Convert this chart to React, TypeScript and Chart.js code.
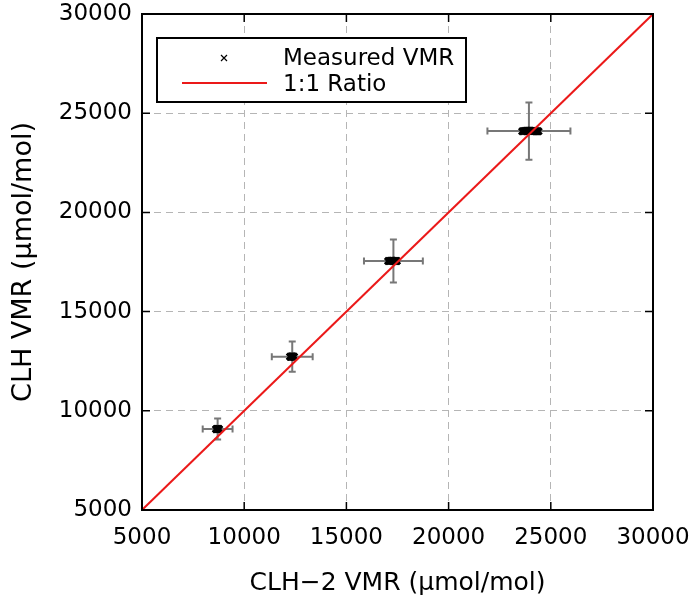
import React, { useEffect, useRef } from "react";
import { Chart, registerables } from "chart.js";

Chart.register(...registerables);

// ---- data ----
const axisMin = 5000;
const axisMax = 30000;
const tickStep = 5000;

// mean values of the four measurement groups
const meanX = [8700, 12350, 17300, 23930];
const meanY = [9080, 12730, 17550, 24100];
const errX = [730, 1000, 1440, 2030];
const errY = [530, 760, 1080, 1440];

// individual measurements (clusters)
const measX = [
  8620, 8645, 8670, 8695, 8720, 8745, 8770,
  12240, 12265, 12290, 12315, 12340, 12365, 12390, 12415, 12440,
  17040, 17085, 17130, 17175, 17220, 17265, 17310, 17355, 17400, 17440, 17470,
  23600, 23650, 23700, 23750, 23800, 23850, 23900, 23950, 24000, 24050, 24100,
  24150, 24200, 24250, 24300, 24350, 24400,
];
const measY = [
  9075, 9080, 9085, 9085, 9080, 9085, 9080,
  12725, 12728, 12730, 12733, 12735, 12733, 12730, 12728, 12725,
  17545, 17550, 17555, 17560, 17560, 17558, 17555, 17552, 17550, 17548, 17545,
  24090, 24095, 24100, 24105, 24110, 24110, 24115, 24110, 24110, 24105, 24105,
  24100, 24100, 24095, 24095, 24090, 24090,
];
const ratioLine = [5000, 30000];

const seriesLabels = ["Measured VMR", "1:1 Ratio"];
const xTitle = "CLH\u22122 VMR (\u00b5mol/mol)";
const yTitle = "CLH VMR (\u00b5mol/mol)";

const FONT = "DejaVu Sans";
const RED = "rgb(235,25,25)";

const customPlugin = {
  id: "customDraw",
  beforeDatasetsDraw(chart: any) {
    const { ctx, scales } = chart;
    const xs = scales.x;
    const ys = scales.y;
    ctx.save();
    ctx.strokeStyle = "#777777";
    ctx.lineWidth = 2;
    const cap = 3.5;
    for (let i = 0; i < meanX.length; i++) {
      const cx = xs.getPixelForValue(meanX[i]);
      const cy = ys.getPixelForValue(meanY[i]);
      const x0 = xs.getPixelForValue(meanX[i] - errX[i]);
      const x1 = xs.getPixelForValue(meanX[i] + errX[i]);
      const y0 = ys.getPixelForValue(meanY[i] - errY[i]);
      const y1 = ys.getPixelForValue(meanY[i] + errY[i]);
      ctx.beginPath();
      ctx.moveTo(x0, cy);
      ctx.lineTo(x1, cy);
      ctx.moveTo(x0, cy - cap);
      ctx.lineTo(x0, cy + cap);
      ctx.moveTo(x1, cy - cap);
      ctx.lineTo(x1, cy + cap);
      ctx.moveTo(cx, y0);
      ctx.lineTo(cx, y1);
      ctx.moveTo(cx - cap, y0);
      ctx.lineTo(cx + cap, y0);
      ctx.moveTo(cx - cap, y1);
      ctx.lineTo(cx + cap, y1);
      ctx.stroke();
    }
    ctx.restore();
  },
  afterDatasetsDraw(chart: any) {
    const { ctx, chartArea, scales } = chart;
    const { left, right, top, bottom } = chartArea;
    ctx.save();
    // inner tick marks
    ctx.strokeStyle = "#000";
    ctx.lineWidth = 1.5;
    const tl = 8;
    ctx.beginPath();
    scales.x.ticks.forEach((t: any) => {
      if (t.value === axisMin || t.value === axisMax) return;
      const px = scales.x.getPixelForValue(t.value);
      ctx.moveTo(px, bottom);
      ctx.lineTo(px, bottom - tl);
      ctx.moveTo(px, top);
      ctx.lineTo(px, top + tl);
    });
    scales.y.ticks.forEach((t: any) => {
      if (t.value === axisMin || t.value === axisMax) return;
      const py = scales.y.getPixelForValue(t.value);
      ctx.moveTo(left, py);
      ctx.lineTo(left + tl, py);
      ctx.moveTo(right, py);
      ctx.lineTo(right - tl, py);
    });
    ctx.stroke();
    // frame
    ctx.lineWidth = 2;
    ctx.strokeRect(left, top, right - left, bottom - top);

    // legend
    const bx = 157, by = 38, bw = 309, bh = 64;
    ctx.fillStyle = "#fff";
    ctx.fillRect(bx, by, bw, bh);
    ctx.lineWidth = 2;
    ctx.strokeStyle = "#000";
    ctx.strokeRect(bx, by, bw, bh);
    // marker
    const mx = 224, my = 58, ms = 3;
    ctx.lineWidth = 1.2;
    ctx.beginPath();
    ctx.moveTo(mx - ms, my - ms);
    ctx.lineTo(mx + ms, my + ms);
    ctx.moveTo(mx + ms, my - ms);
    ctx.lineTo(mx - ms, my + ms);
    ctx.stroke();
    // red line
    ctx.strokeStyle = RED;
    ctx.lineWidth = 2;
    ctx.beginPath();
    ctx.moveTo(182, 83);
    ctx.lineTo(267, 83);
    ctx.stroke();
    // text
    ctx.fillStyle = "#000";
    ctx.font = `23px "${FONT}"`;
    ctx.textAlign = "left";
    ctx.textBaseline = "alphabetic";
    ctx.fillText(seriesLabels[0], 283, 65);
    ctx.fillText(seriesLabels[1], 283, 91);
    ctx.restore();
  },
};

export default function App() {
  const canvasRef = useRef<HTMLCanvasElement | null>(null);

  useEffect(() => {
    if (!canvasRef.current) return;
    Chart.defaults.font.family = FONT;
    const measData = measX.map((x, i) => ({ x, y: measY[i] }));
    const lineData = ratioLine.map((v) => ({ x: v, y: v }));
    const gridColor = (c: any) =>
      c.tick && (c.tick.value === axisMin || c.tick.value === axisMax)
        ? "rgba(0,0,0,0)"
        : "#b5b5b5";
    const chart = new Chart(canvasRef.current, {
      type: "scatter",
      data: {
        datasets: [
          {
            label: seriesLabels[0],
            data: measData,
            pointStyle: "crossRot",
            pointRadius: 4.5,
            pointBorderWidth: 3,
            borderColor: "#000",
            backgroundColor: "#000",
            order: 2,
          },
          {
            type: "line",
            label: seriesLabels[1],
            data: lineData,
            borderColor: RED,
            borderWidth: 2,
            pointRadius: 0,
            fill: false,
            order: 1,
          } as any,
        ],
      },
      options: {
        responsive: false,
        animation: false,
        devicePixelRatio: 1,
        layout: { padding: { left: 0, right: 42, top: 14, bottom: 0 } },
        plugins: {
          legend: { display: false },
          tooltip: { enabled: false },
        },
        scales: {
          x: {
            type: "linear",
            min: axisMin,
            max: axisMax,
            afterFit: (s: any) => {
              s.height = 94;
              s.paddingLeft = 0;
              s.paddingRight = 0;
            },
            ticks: {
              stepSize: tickStep,
              autoSkip: false,
              maxRotation: 0,
              color: "#000",
              padding: 14,
              font: { family: FONT, size: 23 },
              callback: (v: any) => String(v),
            },
            grid: { color: gridColor, lineWidth: 1, drawTicks: false },
            border: { display: false, dash: [7, 5] },
            title: {
              display: true,
              text: xTitle,
              color: "#000",
              font: { family: FONT, size: 25 },
              padding: { top: 0, bottom: 6 },
            },
          },
          y: {
            type: "linear",
            min: axisMin,
            max: axisMax,
            afterFit: (s: any) => {
              s.width = 142;
              s.paddingTop = 0;
              s.paddingBottom = 0;
            },
            ticks: {
              stepSize: tickStep,
              autoSkip: false,
              color: "#000",
              padding: 10,
              font: { family: FONT, size: 23 },
              callback: (v: any) => String(v),
            },
            grid: { color: gridColor, lineWidth: 1, drawTicks: false },
            border: { display: false, dash: [7, 5] },
            title: {
              display: true,
              text: yTitle,
              color: "#000",
              font: { family: FONT, size: 27 },
              padding: { top: 8, bottom: 0 },
            },
          },
        },
      },
      plugins: [customPlugin],
    });
    return () => chart.destroy();
  }, []);

  return (
    <div style={{ position: "fixed", left: 0, top: 0, width: 695, height: 604, background: "#fff" }}>
      <canvas ref={canvasRef} width={695} height={604} />
    </div>
  );
}
